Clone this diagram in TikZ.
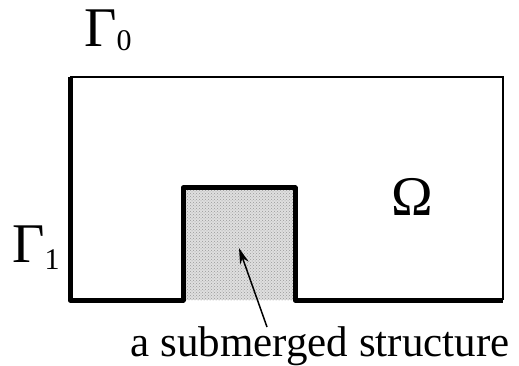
\documentclass[tikz,border=0pt]{standalone}
\usepackage{fontspec}
\setmainfont{Liberation Serif}
\usetikzlibrary{patterns,arrows.meta}

\begin{document}
\begin{tikzpicture}[x=1pt, y=-1pt,
			wall/.style={line width=5pt, line join=round},
			open/.style={line width=1.5pt},
			solid body/.style={fill=gray!25, postaction={pattern=crosshatch dots, pattern color=gray!80}},
			big/.style={font=\fontsize{56}{56}\selectfont, inner sep=0pt},
			label/.style={font=\fontsize{43}{43}\selectfont, inner sep=0pt}]

		\useasboundingbox (0,0) rectangle (519,366);

		% structure on the bottom
		\fill[solid body] (183,300) rectangle (295,188);

		% boundaries
		\draw[open] (70,77) -- (503,77) -- (503,300);
		\draw[wall] (70,77) -- (70,300) -- (183,300) -- (183,188) -- (295,188) -- (295,300) -- (503,300);

		% labels
		\node[big, anchor=base west] (g0) at (84,47) {Γ\raisebox{-4pt}{\fontsize{30}{30}\selectfont 0}};
		\node[big, anchor=base west] (g1) at (12,262) {Γ\raisebox{-7pt}{\fontsize{30}{30}\selectfont 1}};
		\node[big, anchor=base] (omega) at (412,215) {Ω};
		\node[label, anchor=base] (text) at (320,356) {a submerged structure};

		\coordinate (tail) at (267,327);
		\coordinate (tip) at (239,248);
		\draw[line width=1.5pt, -{Stealth[length=16pt, width=9pt]}] (tail) -- (tip);
	\end{tikzpicture}
\end{document}
